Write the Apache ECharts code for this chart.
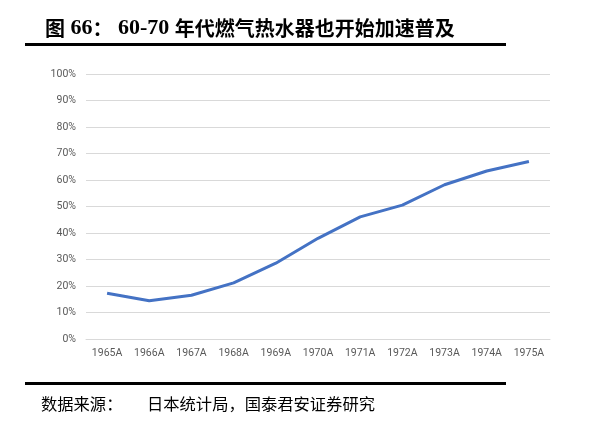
<!DOCTYPE html>
<html>
<head>
<meta charset="utf-8">
<script src="https://cdn.jsdelivr.net/npm/echarts@6/dist/echarts.min.js"></script>
<style>
  html, body { margin: 0; padding: 0; background: #fff; }
  #chart { width: 594px; height: 422px; }
</style>
</head>
<body>
<div id="chart"></div>
<script>
// 年份与燃气热水器普及率(%)
const years = ['1965A', '1966A', '1967A', '1968A', '1969A', '1970A', '1971A', '1972A', '1973A', '1974A', '1975A'];
const penetration = [17.3, 14.4, 16.5, 21.2, 28.6, 38.0, 46.1, 50.5, 58.2, 63.4, 67.0];

const chart = echarts.init(document.getElementById('chart'));

const cjk = { fontFamily: '"Noto Sans CJK SC"', fontWeight: 'bold', fontSize: 20, lineHeight: 24, color: '#000' };
const num = { fontFamily: '"Liberation Serif"', fontWeight: 'bold', fontSize: 22, lineHeight: 24, color: '#000' };
const srcFont = '16.3px "Noto Sans CJK SC"';

chart.setOption({
  animation: false,
  title: {
    text: '{c|图} {d|66}{c|：} {d|60-70} {c|年代燃气热水器也开始加速普及}',
    left: 45,
    top: 16,
    padding: 0,
    textStyle: {
      fontFamily: '"Liberation Serif"',
      fontWeight: 'bold',
      fontSize: 22,
      lineHeight: 24,
      color: '#000',
      rich: { c: cjk, d: num }
    }
  },
  graphic: [
    { type: 'rect', shape: { x: 25, y: 43, width: 481, height: 3 }, style: { fill: '#000' } },
    { type: 'rect', shape: { x: 25, y: 382, width: 481, height: 3 }, style: { fill: '#000' } },
    { type: 'text', left: 41, top: 396, style: { text: '数据来源：', font: srcFont, fill: '#000' } },
    { type: 'text', left: 147, top: 396, style: { text: '日本统计局，国泰君安证券研究', font: srcFont, fill: '#000' } }
  ],
  grid: { left: 86, right: 44, top: 74, bottom: 83 },
  xAxis: {
    type: 'category',
    data: years,
    boundaryGap: true,
    axisLine: { show: true, lineStyle: { color: '#d9d9d9' } },
    axisTick: { show: false },
    axisLabel: { color: '#595959', fontSize: 10.5, margin: 9, fontFamily: 'Roboto' }
  },
  yAxis: {
    type: 'value',
    min: 0,
    max: 100,
    interval: 10,
    axisLine: { show: false },
    axisTick: { show: false },
    axisLabel: { formatter: '{value}%', color: '#595959', fontSize: 10.5, margin: 10, fontFamily: 'Roboto' },
    splitLine: { lineStyle: { color: '#d9d9d9', width: 1 } }
  },
  series: [{
    type: 'line',
    data: penetration,
    showSymbol: false,
    lineStyle: { color: '#4472C4', width: 3 },
    itemStyle: { color: '#4472C4' }
  }]
});
</script>
</body>
</html>
